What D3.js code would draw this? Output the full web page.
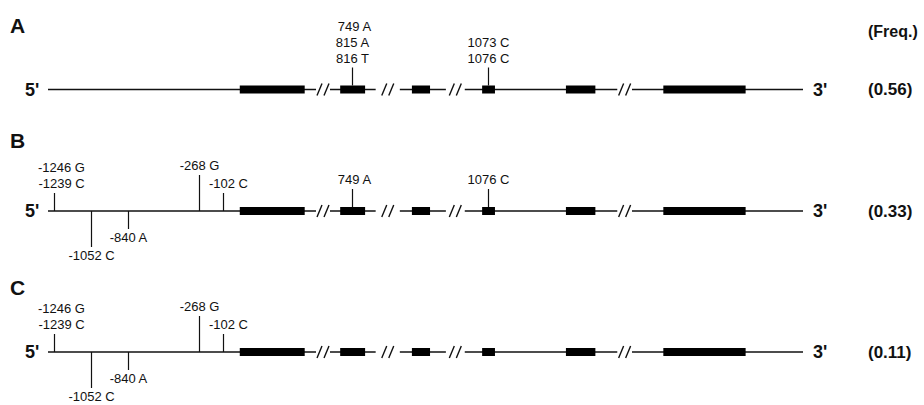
<!DOCTYPE html>
<html>
<head>
<meta charset="utf-8">
<script src="https://cdn.jsdelivr.net/npm/d3@7"></script>
<style>
  body { margin: 0; background: #fff; }
  text { font-family: "Liberation Sans", Arial, sans-serif; fill: #111; }
</style>
</head>
<body>
<svg width="924" height="405"></svg>
<script>
// haplotype panels
var panelNames = ["A", "B", "C"];
var freqs = ["(0.56)", "(0.33)", "(0.11)"];

// gene map, positions in % of drawn gene length (5' -> 3')
var exonStart = [25.4, 38.7, 48.2, 57.5, 68.6, 81.5];
var exonEnd   = [34.0, 42.0, 50.6, 59.2, 72.5, 92.4];
var breakStart = [35.5, 43.4, 52.7, 75.4];
var breakEnd   = [37.35, 46.6, 55.2, 77.35];

// SNPs: position, labels, side (1 = up, -1 = down), level (1 short, 2 long), coding (drawn from exon)
var snpPromoter = [
    {pos: 0.79, labels: ["-1246 G", "-1239 C"], side: 1, level: 1, coding: false},
    {pos: 5.7, labels: ["-1052 C"], side: -1, level: 2, coding: false},
    {pos: 10.6, labels: ["-840 A"], side: -1, level: 1, coding: false},
    {pos: 20.0, labels: ["-268 G"], side: 1, level: 2, coding: false},
    {pos: 23.2, labels: ["-102 C"], side: 1, level: 1, coding: false}
];
var snpA = [
    {pos: 40.3, labels: ["749 A", "815 A", "816 T"], side: 1, level: 1, coding: true},
    {pos: 58.3, labels: ["1073 C", "1076 C"], side: 1, level: 1, coding: true}
];
var snpB = snpPromoter.concat([
    {pos: 40.3, labels: ["749 A"], side: 1, level: 1, coding: true},
    {pos: 58.3, labels: ["1076 C"], side: 1, level: 1, coding: true}
]);
var snpC = snpPromoter;
var panelSnps = [snpA, snpB, snpC];

var svg = d3.select("svg");
var x = d3.scaleLinear().domain([0, 100]).range([48, 803]);

var rowY = [89.5, 211, 352];
var letterY = [33, 148, 295];
var labelShift = {"-1246 G": 7, "-1239 C": 7, "-102 C": 5, "749 A": 2};

// header
svg.append("text")
    .attr("x", 868).attr("y", 37)
    .style("font-size", "16px").style("font-weight", "bold")
    .text("(Freq.)");

panelNames.forEach(function(name, i) {
    var y = rowY[i];
    var g = svg.append("g");

    g.append("text")
        .attr("x", 10).attr("y", letterY[i])
        .style("font-size", "21px").style("font-weight", "bold")
        .text(name);

    g.append("text")
        .attr("x", 25).attr("y", y + 6)
        .style("font-size", "18px").style("font-weight", "bold")
        .text("5'");
    g.append("text")
        .attr("x", 813).attr("y", y + 6)
        .style("font-size", "18px").style("font-weight", "bold")
        .text("3'");
    g.append("text")
        .attr("x", 868).attr("y", y + 5.5)
        .style("font-size", "17px").style("font-weight", "bold")
        .text(freqs[i]);

    // backbone split at the breaks
    var segs = [];
    var start = 0;
    breakStart.forEach(function(b, k) {
        segs.push([start, b]);
        start = breakEnd[k];
    });
    segs.push([start, 100]);

    g.selectAll("line.seg").data(segs).enter().append("line")
        .attr("class", "seg")
        .attr("x1", function(d) { return x(d[0]); })
        .attr("x2", function(d) { return x(d[1]); })
        .attr("y1", y).attr("y2", y)
        .attr("stroke", "#111").attr("stroke-width", 1.4);

    // break marks "//"
    var slashes = [];
    breakStart.forEach(function(b, k) {
        var c = (x(b) + x(breakEnd[k])) / 2;
        slashes.push(c - 3.5, c + 3.5);
    });
    g.selectAll("line.sl").data(slashes).enter().append("line")
        .attr("class", "sl")
        .attr("x1", function(d) { return d - 2.5; })
        .attr("x2", function(d) { return d + 2.5; })
        .attr("y1", y + 6).attr("y2", y - 6)
        .attr("stroke", "#111").attr("stroke-width", 1.4);

    // exons
    g.selectAll("rect").data(d3.range(exonStart.length)).enter().append("rect")
        .attr("x", function(k) { return x(exonStart[k]); })
        .attr("width", function(k) { return x(exonEnd[k]) - x(exonStart[k]); })
        .attr("y", y - 4).attr("height", 8)
        .attr("fill", "#000");

    // SNP ticks and labels
    panelSnps[i].forEach(function(s) {
        var sx = Math.round(x(s.pos)) + 0.5;
        var y0 = s.coding ? y - 4 : y;
        var len = s.level === 2 ? 36 : 18;
        var y1 = y0 - s.side * len;
        g.append("line")
            .attr("x1", sx).attr("x2", sx)
            .attr("y1", y0).attr("y2", y1)
            .attr("stroke", "#111").attr("stroke-width", 1.2);

        var n = s.labels.length;
        g.selectAll(null).data(s.labels).enter().append("text")
            .attr("x", function(d) { return sx + (labelShift[d] || 0); })
            .attr("y", function(d, j) {
                return s.side > 0 ? y1 - 5 - (n - 1 - j) * 16 : y1 + 13 + j * 16;
            })
            .attr("text-anchor", "middle")
            .style("font-size", "13px")
            .text(function(d) { return d; });
    });
});
</script>
</body>
</html>
